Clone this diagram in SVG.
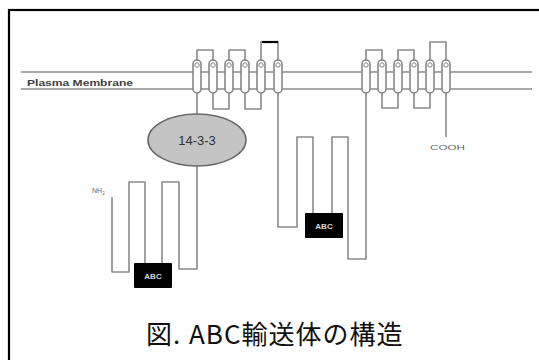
<svg xmlns="http://www.w3.org/2000/svg" width="539" height="360" viewBox="0 0 539 360">
  <style>
    .chain { fill: none; stroke: #8a8a8a; stroke-width: 1.6; stroke-linejoin: round; }
    .membrane { stroke: #a8a8a8; stroke-width: 2; }
    .helix { fill: #ffffff; stroke: #808080; stroke-width: 1.5; }
    .helix-cap { fill: none; stroke: #808080; stroke-width: 1; }
    .abc-box { fill: #000000; }
    .abc-text { fill: #d8d8d8; font-family: "Liberation Sans", Arial, sans-serif; font-size: 8px; font-weight: bold; text-anchor: middle; }
    .small { fill: #666666; font-family: "Liberation Sans", Arial, sans-serif; font-size: 7px; }
    .caption { fill: #111111; font-family: "Noto Sans CJK JP", "Noto Sans", sans-serif; font-size: 26px; letter-spacing: 1px; }
  </style>
  <defs>
    <!-- one transmembrane helix: a capsule with a small ring near its top -->
    <g id="tm">
      <rect class="helix" x="-4" y="60" width="8" height="33" rx="4" ry="4"/>
      <circle class="helix-cap" cx="0" cy="65" r="2.2"/>
    </g>
  </defs>

  <rect width="539" height="360" fill="#ffffff"/>
  <!-- outer frame -->
  <rect x="9" y="10" width="545" height="365" fill="none" stroke="#000000" stroke-width="2.2"/>

  <!-- plasma membrane -->
  <g id="membrane">
    <line class="membrane" x1="21" y1="72" x2="532" y2="72"/>
    <line class="membrane" x1="21" y1="89" x2="532" y2="89"/>
    <text x="27" y="86" fill="#404040" font-family="'Liberation Sans', Arial, sans-serif" font-size="9" font-weight="bold" textLength="106" lengthAdjust="spacingAndGlyphs">Plasma Membrane</text>
  </g>

  <!-- polypeptide chain -->
  <g id="connectors">
    <!-- N-terminal half: NH2 -> ABC -> 14-3-3 -> first TM domain -->
    <path class="chain" d="M112,197 V272 H129 V182 H145 V263"/>
    <path class="chain" d="M162,263 V182 H179 V269 H197 V93"/>
    <!-- loops of the first TM domain -->
    <path class="chain" d="M197,60 V50 H213 V60"/>
    <path class="chain" d="M229,60 V50 H245 V60"/>
    <path class="chain" d="M261,60 V42 H278 V60"/>
    <line x1="262" y1="42" x2="278" y2="42" stroke="#000000" stroke-width="2.2"/>
    <path class="chain" d="M213,93 V109 H229 V93"/>
    <path class="chain" d="M245,93 V109 H261 V93"/>
    <!-- linker with second ABC -->
    <path class="chain" d="M278,93 V227 H297 V137 H313 V213"/>
    <path class="chain" d="M332,213 V137 H348 V259 H366 V93"/>
    <!-- loops of the second TM domain -->
    <path class="chain" d="M366,60 V50 H382 V60"/>
    <path class="chain" d="M398,60 V50 H414 V60"/>
    <path class="chain" d="M430,60 V42 H446 V60"/>
    <path class="chain" d="M382,93 V108 H398 V93"/>
    <path class="chain" d="M414,93 V108 H430 V93"/>
    <path class="chain" d="M446,93 V137"/>
  </g>

  <!-- transmembrane domain 1 -->
  <g id="tmd1">
    <use href="#tm" x="197"/>
    <use href="#tm" x="213"/>
    <use href="#tm" x="229"/>
    <use href="#tm" x="245"/>
    <use href="#tm" x="261"/>
    <use href="#tm" x="278"/>
  </g>

  <!-- transmembrane domain 2 -->
  <g id="tmd2">
    <use href="#tm" x="366"/>
    <use href="#tm" x="382"/>
    <use href="#tm" x="398"/>
    <use href="#tm" x="414"/>
    <use href="#tm" x="430"/>
    <use href="#tm" x="446"/>
  </g>

  <!-- 14-3-3 binding protein -->
  <g id="p14-3-3">
    <ellipse cx="197" cy="140" rx="49" ry="26" fill="#c4c4c4" stroke="#6a6a6a" stroke-width="1.6"/>
    <text x="197" y="145" fill="#303030" font-family="'Liberation Sans', Arial, sans-serif" font-size="13" text-anchor="middle">14-3-3</text>
  </g>

  <!-- nucleotide binding domains -->
  <g id="abc1">
    <rect class="abc-box" x="134" y="263" width="38" height="25" rx="1"/>
    <text class="abc-text" x="153" y="279">ABC</text>
  </g>
  <g id="abc2">
    <rect class="abc-box" x="305" y="213" width="38" height="25" rx="1"/>
    <text class="abc-text" x="324" y="229">ABC</text>
  </g>

  <!-- termini -->
  <g id="nh2">
    <text class="small" x="92" y="193">NH<tspan font-size="4.5" dy="2">2</tspan></text>
  </g>
  <g id="cooh">
    <text class="small" x="430" y="150" textLength="35" lengthAdjust="spacingAndGlyphs">COOH</text>
  </g>

  <!-- caption -->
  <g id="caption">
    <text class="caption" x="146" y="344">図.<tspan x="189">ABC輸送体の構造</tspan></text>
  </g>
</svg>
